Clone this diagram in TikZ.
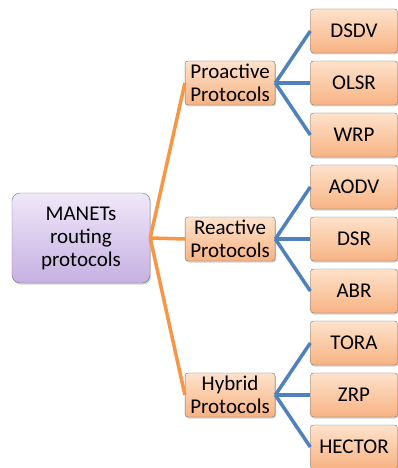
\documentclass[tikz,border=0pt]{standalone}
\usepackage{fontspec}
\setmainfont{Carlito}
\usetikzlibrary{positioning,shadows}

\definecolor{leaftop}{HTML}{FEE2CB}
\definecolor{leafbot}{HTML}{F7B383}
\definecolor{roottop}{HTML}{EFE8F9}
\definecolor{rootbot}{HTML}{C6B0E2}
\definecolor{linkorange}{HTML}{F79646}
\definecolor{linkblue}{HTML}{4F81BD}

\begin{document}
\begin{tikzpicture}[
			x=1pt, y=1pt,
			node distance=7.6pt,
			box/.style={
					draw=black!55,
					rounded corners=3pt,
					align=center,
					font=\fontsize{21}{23}\selectfont,
					inner sep=0pt,
					drop shadow={opacity=0.35, shadow xshift=1pt, shadow yshift=-1.5pt}
				},
			leafbox/.style={
					box,
					top color=leaftop,
					bottom color=leafbot,
					minimum width=87pt,
					minimum height=44pt
				},
			rootbox/.style={
					box,
					rounded corners=8pt,
					top color=roottop,
					bottom color=rootbot,
					minimum width=138pt,
					minimum height=90pt
				},
			orangelink/.style={line width=3.5pt, draw=linkorange},
			bluelink/.style={line width=3.5pt, draw=linkblue}
		]

		\useasboundingbox (0,0) rectangle (398,-468);

		% leaves
		\node[leafbox] (dsdv) at (354,-31) {DSDV};
		\node[leafbox] (olsr) [below=of dsdv] {OLSR};
		\node[leafbox] (wrp) [below=of olsr] {WRP};
		\node[leafbox] (aodv) [below=of wrp] {AODV};
		\node[leafbox] (dsr) [below=of aodv] {DSR};
		\node[leafbox] (abr) [below=of dsr] {ABR};
		\node[leafbox] (tora) [below=of abr] {TORA};
		\node[leafbox] (zrp) [below=of tora] {ZRP};
		\node[leafbox] (hector) [below=of zrp] {HECTOR};

		% protocol classes
		\node[leafbox, minimum width=90pt] (proactive) [left=35pt of olsr]
		{Proactive\\Protocols};
		\node[leafbox, minimum width=90pt] (reactive) [left=35pt of dsr]
		{Reactive\\Protocols};
		\node[leafbox, minimum width=90pt] (hybrid) [left=35pt of zrp]
		{Hybrid\\Protocols};

		% root
		\node[rootbox] (manets) at (81,-238)
		{MANETs\\routing\\protocols};

		\draw[orangelink] (manets.east) -- (proactive.west);
		\draw[orangelink] (manets.east) -- (reactive.west);
		\draw[orangelink] (manets.east) -- (hybrid.west);

		\draw[bluelink] (proactive.east) -- (dsdv.west);
		\draw[bluelink] (proactive.east) -- (olsr.west);
		\draw[bluelink] (proactive.east) -- (wrp.west);
		\draw[bluelink] (reactive.east) -- (aodv.west);
		\draw[bluelink] (reactive.east) -- (dsr.west);
		\draw[bluelink] (reactive.east) -- (abr.west);
		\draw[bluelink] (hybrid.east) -- (tora.west);
		\draw[bluelink] (hybrid.east) -- (zrp.west);
		\draw[bluelink] (hybrid.east) -- (hector.west);

	\end{tikzpicture}
\end{document}
